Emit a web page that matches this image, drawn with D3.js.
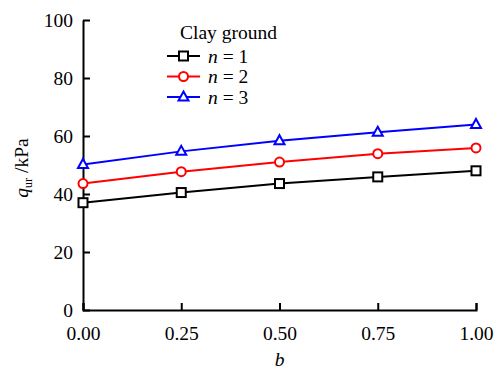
<!DOCTYPE html>
<html>
<head>
<meta charset="utf-8">
<script src="https://cdn.jsdelivr.net/npm/d3@7"></script>
<style>
  body { margin: 0; background: #fff; }
</style>
</head>
<body>
<div class="chart"></div>
<script>
var bValues = [0, 0.25, 0.5, 0.75, 1];
var seriesNames = ["1", "2", "3"];
var n1 = [37.0, 40.5, 43.6, 45.9, 48.0];
var n2 = [43.6, 47.7, 51.0, 53.9, 55.9];
var n3 = [50.2, 54.7, 58.4, 61.3, 64.0];
var xTicks = [0, 0.25, 0.5, 0.75, 1];
var yTicks = [0, 20, 40, 60, 80, 100];

var FONT = "Liberation Serif";
var FS = 19.5;
var margin = { top: 20, right: 27, bottom: 59, left: 83 };
var width = 503 - margin.left - margin.right;
var height = 369 - margin.top - margin.bottom;

var xScale = d3.scaleLinear().domain([0, 1]).range([0, width]);
var yScale = d3.scaleLinear().domain([0, 100]).range([height, 0]);

var svg = d3.select(".chart").append("svg")
  .attr("width", 503)
  .attr("height", 369)
  .attr("font-family", FONT);

var chart = svg.append("g")
  .attr("transform", "translate(" + margin.left + "," + margin.top + ")");

var series = [
  { name: seriesNames[0], values: n1, color: "#000", shape: "square" },
  { name: seriesNames[1], values: n2, color: "#ff0000", shape: "circle" },
  { name: seriesNames[2], values: n3, color: "#0000ff", shape: "triangle" }
];

// axes, ticks point inward
var xAxis = chart.append("g")
  .attr("transform", "translate(0," + height + ")")
  .call(d3.axisBottom(xScale).tickValues(xTicks).tickSizeInner(-7).tickSizeOuter(-7)
    .tickPadding(16).tickFormat(d3.format(".2f")));

var yAxis = chart.append("g")
  .call(d3.axisLeft(yScale).tickValues(yTicks).tickSizeInner(-7).tickSizeOuter(0)
    .tickPadding(10));

[xAxis, yAxis].forEach(function (a) {
  a.attr("font-family", FONT).attr("font-size", FS);
  a.selectAll("path, line").attr("stroke", "#000").attr("stroke-width", 2);
  a.selectAll("text").attr("fill", "#000");
});

chart.append("text")
  .attr("x", width / 2)
  .attr("y", height + 56)
  .attr("text-anchor", "middle")
  .attr("font-size", FS)
  .attr("font-style", "italic")
  .text("b");

var ylab = chart.append("text")
  .attr("transform", "translate(-55," + (height / 2 + 3) + ") rotate(-90)")
  .attr("text-anchor", "middle")
  .attr("font-size", FS);
ylab.append("tspan").attr("font-style", "italic").text("q");
ylab.append("tspan").attr("font-size", 12).attr("dy", 4).text("ur");
ylab.append("tspan").attr("dy", -4).text(" /kPa");

var line = d3.line()
  .x(function (d, i) { return xScale(bValues[i]); })
  .y(function (d) { return yScale(d); });

function drawMarker(g, shape, color) {
  if (shape === "square") {
    g.append("rect").attr("x", -4.5).attr("y", -4.5).attr("width", 9).attr("height", 9)
      .attr("fill", "#fff").attr("stroke", color).attr("stroke-width", 2);
  } else if (shape === "circle") {
    g.append("circle").attr("r", 4.5)
      .attr("fill", "#fff").attr("stroke", color).attr("stroke-width", 2);
  } else {
    g.append("path").attr("d", "M0,-5.5L5,3.5L-5,3.5Z")
      .attr("fill", "#fff").attr("stroke", color).attr("stroke-width", 2);
  }
}

var param = chart.selectAll(".param")
  .data(series)
  .enter().append("g")
  .attr("class", "param");

param.append("path")
  .attr("d", function (d) { return line(d.values); })
  .attr("fill", "none")
  .attr("stroke", function (d) { return d.color; })
  .attr("stroke-width", 2);

param.each(function (s) {
  var g = d3.select(this);
  s.values.forEach(function (v, i) {
    var m = g.append("g")
      .attr("transform", "translate(" + xScale(bValues[i]) + "," + yScale(v) + ")");
    drawMarker(m, s.shape, s.color);
  });
});

// legend
var legend = svg.append("g").attr("transform", "translate(167,0)");
legend.append("text")
  .attr("x", 13).attr("y", 39)
  .attr("font-size", FS)
  .text("Clay ground");

series.forEach(function (s, i) {
  var y = 56 + i * 20.5;
  var row = legend.append("g").attr("transform", "translate(0," + y + ")");
  row.append("line").attr("x1", 0).attr("x2", 33)
    .attr("stroke", s.color).attr("stroke-width", 2);
  var m = row.append("g").attr("transform", "translate(16.5,0)");
  drawMarker(m, s.shape, s.color);
  var t = row.append("text").attr("x", 41).attr("y", 6.5).attr("font-size", FS);
  t.append("tspan").attr("font-style", "italic").text("n");
  t.append("tspan").text(" = " + s.name);
});
</script>
</body>
</html>
